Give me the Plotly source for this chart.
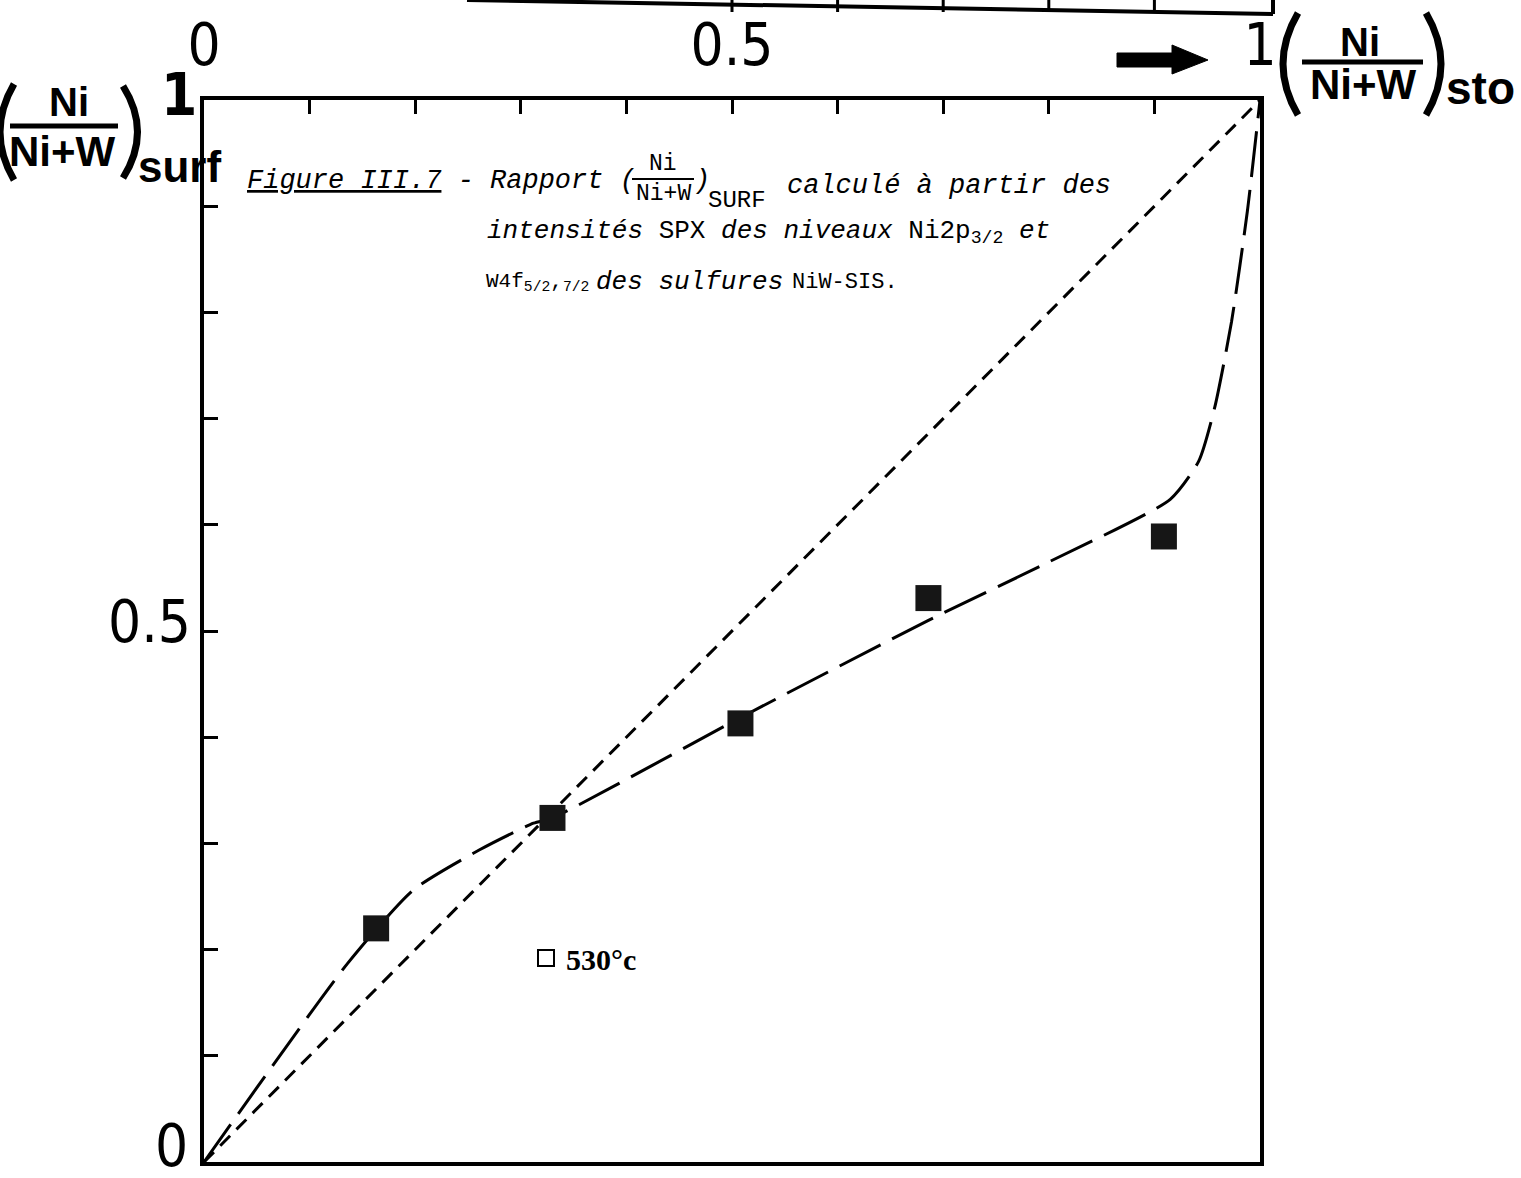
import plotly.graph_objects as go

# ---- data ----
ratio_sto = [0.163, 0.330, 0.508, 0.686, 0.909]
ratio_surf = [0.220, 0.324, 0.413, 0.531, 0.589]

curve_x = [0.0, 0.136, 0.198, 0.261, 0.312, 0.330, 0.511, 0.686, 0.800, 0.915, 0.942, 0.957, 0.973, 0.988, 1.0]
curve_y = [0.0, 0.187, 0.256, 0.294, 0.319, 0.324, 0.420, 0.510, 0.565, 0.624, 0.660, 0.710, 0.791, 0.895, 1.0]

diag_x = [0.0, 1.0]
diag_y = [0.0, 1.0]

tick_vals = [i / 10 for i in range(11)]
x_tick_text = ["0", "", "", "", "", "0.5", "", "", "", "", "1"]
y_label_vals = [0.0, 0.5, 1.0]
y_label_text = ["0", "0.5", "1"]
strip_ticks = [0.5, 0.6, 0.7, 0.8, 0.9]
legend_name = "530°c"

W, H = 1521, 1178
L, R, T, B = 204, 1260, 100, 1162


def xp(px):
    return (px - L) / (R - L)


def yp(py):
    return (B - py) / (B - T)


NUM_FONT = "DejaVu Sans Condensed, DejaVu Sans, sans-serif"
BOLD_FONT = "Liberation Sans, Arial, sans-serif"
TYPE_FONT = "Liberation Mono, Courier New, monospace"

fig = go.Figure()

fig.add_trace(go.Scatter(x=diag_x, y=diag_y, mode="lines",
                         line=dict(color="black", width=3, dash="14px,9px"),
                         showlegend=False, hoverinfo="skip"))
fig.add_trace(go.Scatter(x=curve_x, y=curve_y, mode="lines",
                         line=dict(color="black", width=3, dash="46px,13px",
                                   shape="spline", smoothing=0.6),
                         showlegend=False, hoverinfo="skip"))
fig.add_trace(go.Scatter(x=ratio_sto, y=ratio_surf, mode="markers",
                         marker=dict(symbol="square", size=26, color="#161616"),
                         showlegend=False))
fig.add_trace(go.Scatter(x=[None], y=[None], mode="markers", name=legend_name,
                         marker=dict(symbol="square-open", size=20, color="black",
                                     line=dict(width=2, color="black")),
                         showlegend=True))

axis_common = dict(range=[0, 1], showgrid=False, zeroline=False, showline=True,
                   linecolor="black", linewidth=4, mirror=True,
                   ticks="inside", ticklen=14, tickwidth=3, tickcolor="black",
                   tickmode="array", tickvals=tick_vals,
                   tickfont=dict(family=NUM_FONT, size=58, color="black"),
                   automargin=False, fixedrange=True)

fig.update_layout(
    width=W, height=H,
    margin=dict(l=L, r=W - R, t=T, b=H - B, pad=0),
    paper_bgcolor="white", plot_bgcolor="white",
    template="none",
    xaxis=dict(side="top", ticklabelstandoff=8, ticktext=x_tick_text, **axis_common),
    yaxis=dict(ticktext=[""] * len(tick_vals), **axis_common),
    showlegend=True,
    legend=dict(x=xp(526), y=yp(958), xanchor="left", yanchor="middle",
                bgcolor="rgba(0,0,0,0)", borderwidth=0, itemwidth=30,
                font=dict(family="Liberation Serif, Times New Roman, serif", size=30,
                          color="black", weight="bold")),
)

shapes = []
# fragment of the upper frame
shapes.append(dict(type="line", xref="paper", yref="paper",
                   x0=xp(467), y0=yp(0), x1=xp(1273), y1=yp(14),
                   line=dict(color="black", width=4)))
shapes.append(dict(type="line", xref="paper", yref="paper",
                   x0=xp(1273), y0=yp(-5), x1=xp(1273), y1=yp(14),
                   line=dict(color="black", width=4)))
for t in strip_ticks:
    shapes.append(dict(type="line", xref="x", yref="paper",
                       x0=t, x1=t, y0=yp(12), y1=yp(-2),
                       line=dict(color="black", width=3)))

# arrow
ax0, ax1, atip = 1117, 1172, 1208
arrow_path = (f"M {xp(ax0)},{yp(53)} L {xp(ax1)},{yp(53)} L {xp(ax1)},{yp(45)} "
              f"L {xp(atip)},{yp(60)} L {xp(ax1)},{yp(74)} L {xp(ax1)},{yp(67)} "
              f"L {xp(ax0)},{yp(67)} Z")
shapes.append(dict(type="path", xref="paper", yref="paper", path=arrow_path,
                   fillcolor="black", line=dict(color="black", width=1)))


def paren(x_end, x_mid, y0, y1, width=7):
    ym = (y0 + y1) / 2
    path = f"M {xp(x_end)},{yp(y0)} Q {xp(x_mid)},{yp(ym)} {xp(x_end)},{yp(y1)}"
    shapes.append(dict(type="path", xref="paper", yref="paper", path=path,
                       line=dict(color="black", width=width)))


# parentheses of axis titles
paren(14, -14, 84, 180)
paren(123, 152, 86, 178)
paren(1298, 1268, 13, 115)
paren(1426, 1456, 13, 115)

# fraction bars of axis titles
shapes.append(dict(type="line", xref="paper", yref="paper",
                   x0=xp(10), x1=xp(118), y0=yp(126), y1=yp(126),
                   line=dict(color="black", width=5)))
shapes.append(dict(type="line", xref="paper", yref="paper",
                   x0=xp(1302), x1=xp(1423), y0=yp(62), y1=yp(62),
                   line=dict(color="black", width=5)))
# fraction bar in caption
shapes.append(dict(type="line", xref="paper", yref="paper",
                   x0=xp(632), x1=xp(694), y0=yp(179), y1=yp(179),
                   line=dict(color="black", width=2)))
fig.update_layout(shapes=shapes)


def ann(text, x, y, size, family=BOLD_FONT, xanchor="center", weight="bold", style="normal"):
    fig.add_annotation(text=text, x=xp(x), y=yp(y), xref="paper", yref="paper",
                       xanchor=xanchor, yanchor="middle", showarrow=False,
                       font=dict(family=family, size=size, color="black",
                                 weight=weight, style=style))


# y-axis value labels (placed against the left axis)
y_label_px = {0.0: (190, 1146, "normal"), 0.5: (193, 622, "normal"), 1.0: (199, 95, "bold")}
for v, txt in zip(y_label_vals, y_label_text):
    px_, py_, wt = y_label_px[v]
    ann(txt, px_, py_, 58, NUM_FONT, "right", wt)

# y-axis title (left)
ann("Ni", 69, 102, 40)
ann("Ni+W", 62, 152, 42)
ann("surf", 136, 166, 44, xanchor="left")

# x-axis title (top right)
ann("Ni", 1360, 42, 40)
ann("Ni+W", 1363, 84, 42)
ann("sto", 1444, 88, 46, xanchor="left")

# caption
ann("<u>Figure III.7</u> - Rapport (", 245, 181, 27, TYPE_FONT, "left", "normal", "italic")
ann("Ni", 663, 164, 23, TYPE_FONT, "center", "normal")
ann("Ni+W", 663, 194, 23, TYPE_FONT, "center", "normal")
ann(")", 702, 181, 27, TYPE_FONT, "center", "normal", "italic")
ann("SURF", 706, 200, 24, TYPE_FONT, "left", "normal")
ann("calculé à partir des", 785, 186, 27, TYPE_FONT, "left", "normal", "italic")
ann("<i>intensités</i> SPX <i>des niveaux</i> Ni2p<sub>3/2</sub> <i>et</i>",
    485, 232, 26, TYPE_FONT, "left", "normal")
ann("W4f<sub>5/2</sub>,<sub>7/2</sub>", 484, 282, 21, TYPE_FONT, "left", "normal")
ann("des sulfures", 594, 282, 26, TYPE_FONT, "left", "normal", "italic")
ann("NiW-SIS.", 790, 282, 22, TYPE_FONT, "left", "normal")

fig.write_html("out.html")
